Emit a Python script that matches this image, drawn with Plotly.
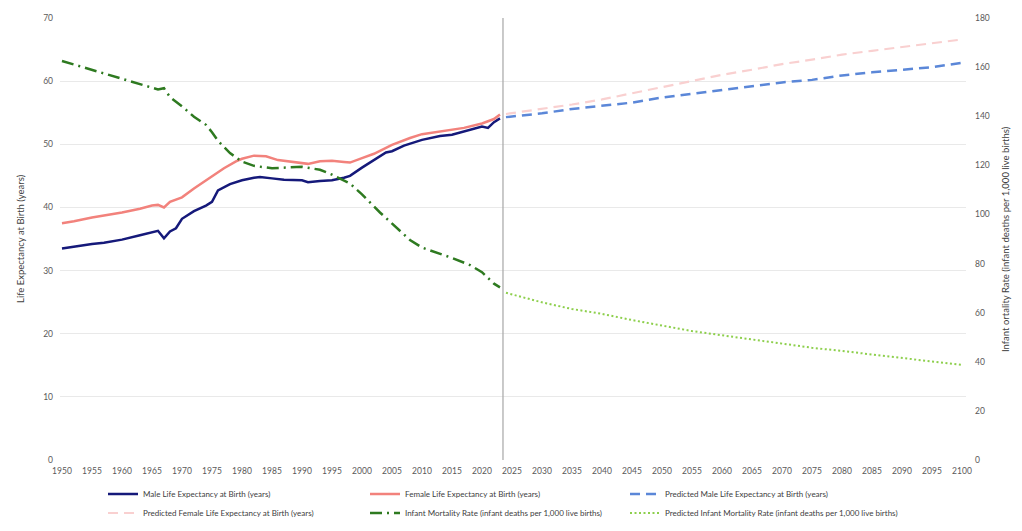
import plotly.graph_objects as go

# ---------------- data ----------------
hist_years_m = [1950, 1952, 1955, 1957, 1960, 1963, 1965, 1966, 1967, 1968, 1969, 1970, 1972, 1974, 1975,
                1976, 1978, 1980, 1982, 1983, 1985, 1987, 1990, 1991, 1993, 1995, 1997, 1998, 2000, 2002,
                2004, 2005, 2007, 2010, 2013, 2015, 2017, 2019, 2020, 2021, 2022, 2023]
male_le = [33.5, 33.8, 34.2, 34.4, 34.9, 35.6, 36.0, 36.3, 35.1, 36.2, 36.7, 38.2, 39.4, 40.3, 40.9,
           42.7, 43.7, 44.3, 44.7, 44.8, 44.6, 44.4, 44.3, 44.0, 44.2, 44.3, 44.7, 45.0, 46.3, 47.5,
           48.7, 48.9, 49.8, 50.7, 51.3, 51.5, 52.0, 52.6, 52.8, 52.6, 53.5, 54.1]

hist_years_f = [1950, 1952, 1955, 1957, 1960, 1963, 1965, 1966, 1967, 1968, 1970, 1972, 1975, 1977, 1979,
                1980, 1982, 1984, 1986, 1989, 1991, 1993, 1995, 1997, 1998, 2000, 2002, 2005, 2008, 2010,
                2013, 2015, 2017, 2020, 2022, 2023]
female_le = [37.5, 37.8, 38.4, 38.7, 39.2, 39.8, 40.3, 40.4, 40.0, 40.9, 41.6, 43.0, 44.9, 46.2, 47.3,
             47.7, 48.2, 48.1, 47.5, 47.2, 46.9, 47.3, 47.4, 47.2, 47.1, 47.8, 48.5, 49.9, 51.0, 51.6,
             52.0, 52.3, 52.6, 53.3, 54.0, 54.7]

hist_years_i = [1950, 1955, 1960, 1965, 1966, 1967, 1968, 1970, 1972, 1974, 1975, 1976, 1978, 1980, 1982,
                1985, 1988, 1990, 1993, 1995, 1998, 2000, 2003, 2005, 2008, 2010, 2013, 2015, 2018, 2020,
                2022, 2023]
infant_mr = [162.5, 158.8, 155.4, 151.4, 150.9, 151.4, 147.8, 144.0, 139.8, 136.5, 133.5, 130.0, 125.0, 121.5, 119.8,
             118.8, 119.3, 119.4, 118.2, 116.2, 112.6, 108.2, 100.8, 96.4, 89.6, 86.5, 84.0, 82.3, 79.4, 76.5,
             71.8, 70.3]

pred_years = [2024, 2030, 2035, 2040, 2045, 2050, 2055, 2060, 2065, 2070, 2075, 2080, 2085, 2090, 2095, 2100]
pred_male_le = [54.3, 54.9, 55.6, 56.1, 56.6, 57.4, 58.0, 58.6, 59.3, 59.8, 60.2, 60.9, 61.4, 61.8, 62.2, 62.9]
pred_female_le = [54.8, 55.6, 56.3, 57.1, 58.1, 59.0, 60.1, 61.0, 61.8, 62.7, 63.4, 64.2, 64.8, 65.4, 65.9, 66.6]
pred_infant_mr = [68.1, 64.2, 61.5, 59.5, 57.0, 54.6, 52.5, 50.8, 49.1, 47.4, 45.7, 44.4, 43.0, 41.7, 40.3, 38.7]

forecast_boundary = 2023.5
x_ticks = list(range(1950, 2101, 5))
left_ticks = list(range(0, 71, 10))
right_ticks = list(range(0, 181, 20))

left_title = "Life Expectancy at Birth (years)"
right_title = "Infant ortality Rate (infant deaths per 1,000 live births)"

# ---------------- styles ----------------
FONT = "Lato"
TICK_COLOR = "#595959"
TITLE_COLOR = "#404040"
GRID = "#E9E9E9"

fig = go.Figure()

fig.add_trace(go.Scatter(x=hist_years_m, y=male_le, mode="lines", legend="legend",
                         name="Male Life Expectancy at Birth (years)",
                         line=dict(color="#15197A", width=2.5)))
fig.add_trace(go.Scatter(x=hist_years_f, y=female_le, mode="lines", legend="legend2",
                         name="Female Life Expectancy at Birth (years)",
                         line=dict(color="#F2827C", width=2.5)))
fig.add_trace(go.Scatter(x=pred_years, y=pred_male_le, mode="lines", legend="legend3",
                         name="Predicted Male Life Expectancy at Birth (years)",
                         line=dict(color="#5B87D8", width=2.5, dash="10px,6px")))
fig.add_trace(go.Scatter(x=pred_years, y=pred_female_le, mode="lines", legend="legend",
                         name="Predicted Female Life Expectancy at Birth (years)",
                         line=dict(color="#F9D0D0", width=2.2, dash="10px,6px")))
fig.add_trace(go.Scatter(x=hist_years_i, y=infant_mr, mode="lines", yaxis="y2", legend="legend2",
                         name="Infant Mortality Rate (infant deaths per 1,000 live births)",
                         line=dict(color="#2E7A20", width=2.5, dash="12px,5px,2px,5px")))
fig.add_trace(go.Scatter(x=pred_years, y=pred_infant_mr, mode="lines", yaxis="y2", legend="legend3",
                         name="Predicted Infant Mortality Rate (infant deaths per 1,000 live births)",
                         line=dict(color="#8DCF4C", width=2, dash="2px,2.5px")))

fig.add_shape(type="line", x0=forecast_boundary, x1=forecast_boundary, xref="x",
              y0=0, y1=1, yref="paper", line=dict(color="#A6A6A6", width=1.2), layer="above")

fig.add_annotation(text=left_title, xref="paper", yref="paper", x=0, y=0.5, xshift=-40,
                   textangle=-90, showarrow=False, xanchor="center", yanchor="middle",
                   font=dict(family=FONT, size=9.5, color=TITLE_COLOR))
fig.add_annotation(text=right_title, xref="paper", yref="paper", x=1, y=0.5, xshift=39,
                   textangle=-90, showarrow=False, xanchor="center", yanchor="middle",
                   font=dict(family=FONT, size=9.5, color=TITLE_COLOR))


def legend_col(x_px):
    return dict(orientation="v", xref="container", yref="container",
                x=x_px / 1022, y=0.097, xanchor="left", yanchor="top",
                tracegroupgap=0, itemwidth=30,
                font=dict(family=FONT, size=8, color=TITLE_COLOR),
                bgcolor="rgba(0,0,0,0)")


fig.update_layout(
    width=1022, height=531,
    margin=dict(l=60, r=56, t=18, b=71, autoexpand=False),
    paper_bgcolor="white", plot_bgcolor="white",
    font=dict(family=FONT, color=TICK_COLOR, size=9),
    showlegend=True,
    legend=legend_col(103),
    legend2=legend_col(365),
    legend3=legend_col(625),
    xaxis=dict(range=[1949.67, 2100.67], tickmode="array", tickvals=x_ticks,
               ticktext=[str(t) for t in x_ticks], showgrid=False, zeroline=False,
               showline=False, ticks="", ticklabelstandoff=4, automargin=False,
               tickfont=dict(size=8.5, color=TICK_COLOR)),
    yaxis=dict(range=[0, 70], tickmode="array", tickvals=left_ticks, showgrid=True,
               gridcolor=GRID, gridwidth=1, zeroline=False, showline=False, ticks="",
               ticklabelstandoff=6, automargin=False,
               tickfont=dict(size=8.5, color=TICK_COLOR)),
    yaxis2=dict(range=[0, 180], tickmode="array", tickvals=right_ticks, overlaying="y", side="right",
                showgrid=False, zeroline=False, showline=False, ticks="", ticklabelstandoff=8,
                automargin=False, tickfont=dict(size=8.5, color=TICK_COLOR)),
)

fig.write_html("out.html", config={"displayModeBar": False},
               post_script="document.body.style.margin='0';")
